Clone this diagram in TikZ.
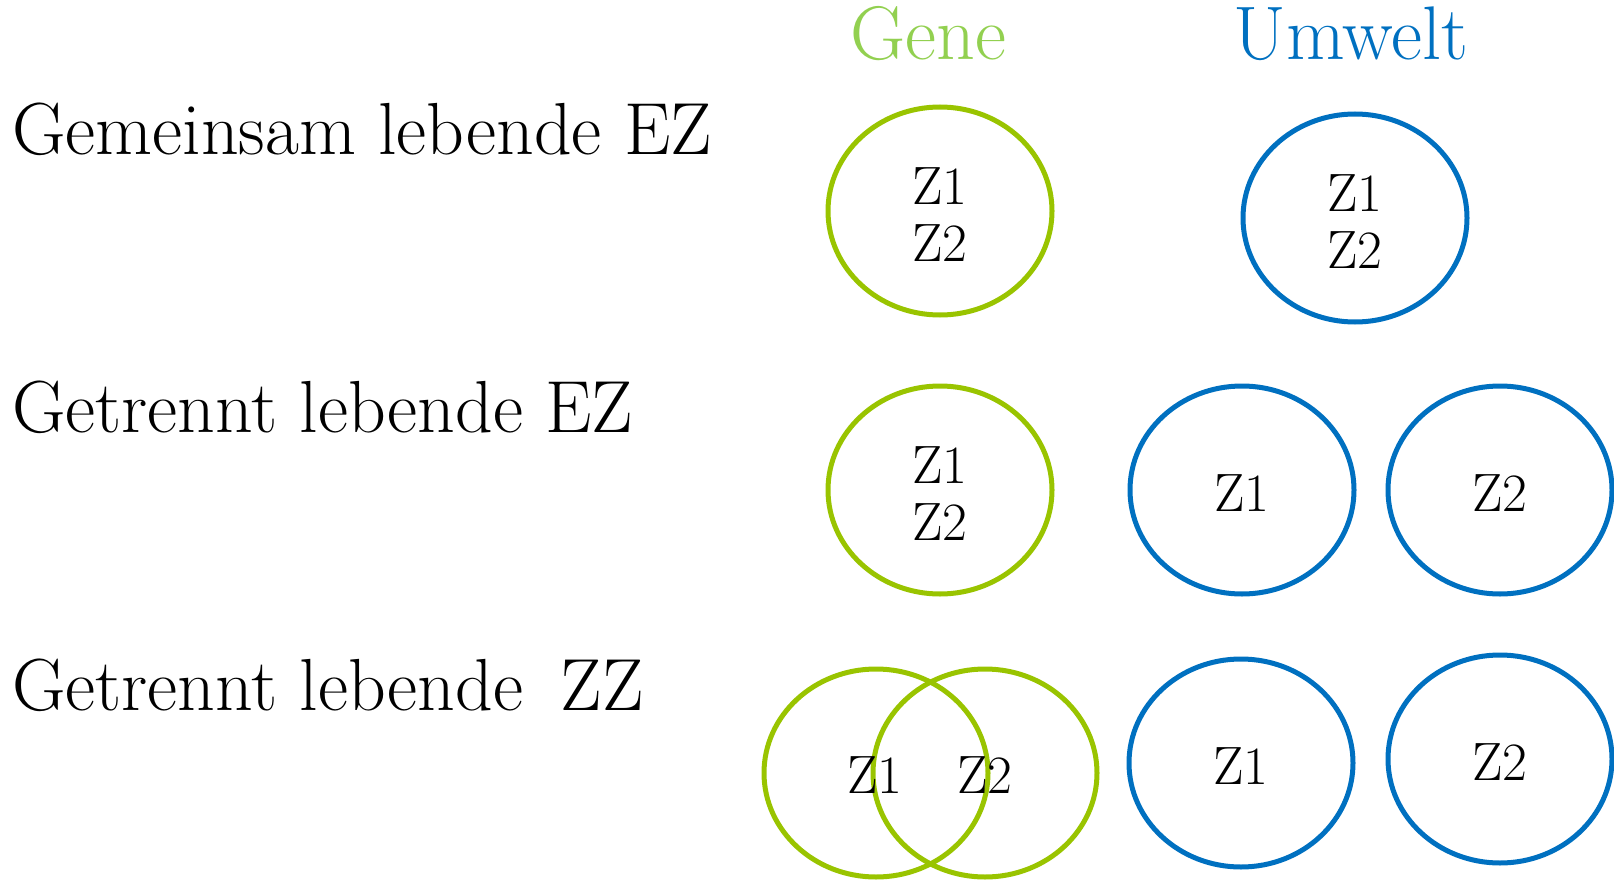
\documentclass[tikz,border=0pt]{standalone}
\usetikzlibrary{shapes.geometric}
\definecolor{ringgreen}{RGB}{153,196,0}
\definecolor{headgreen}{RGB}{146,208,80}
\definecolor{ringblue}{RGB}{0,112,192}
\begin{document}
\begin{tikzpicture}[x=1pt,y=-1pt,
  ring/.style={ellipse, draw, line width=5pt, minimum width=224pt, minimum height=208pt, inner sep=0pt},
  gring/.style={ring, draw=ringgreen},
  bring/.style={ring, draw=ringblue},
  rowlabel/.style={anchor=base west, inner sep=0pt, font=\fontsize{73.8}{90}\selectfont},
  head/.style={anchor=base, inner sep=0pt, font=\fontsize{76}{90}\selectfont},
  ztext/.style={anchor=base, inner sep=0pt, font=\fontsize{54}{64}\selectfont}]
\useasboundingbox (0,0) rectangle (1614,880);
% headers
\node[head, text=headgreen] (gene) at (928,60) {Gene};
\node[head, text=ringblue] (umwelt) at (1351,60) {Umwelt};
% row labels
\node[rowlabel] (r1) at (12,154) {Gemeinsam lebende EZ};
\node[rowlabel] (r2) at (12,432) {Getrennt lebende EZ};
\node[rowlabel] (r3) at (12,710) {Getrennt lebende\ \hspace{15pt}ZZ};
% row 1
\node[gring] (g1) at (940,211) {};
\node[bring] (b1) at (1355,218) {};
\node[ztext] (g1a) at (940,204) {Z1};
\node[ztext] (g1b) at (940,261) {Z2};
\node[ztext] (b1a) at (1355,211) {Z1};
\node[ztext] (b1b) at (1355,268) {Z2};
% row 2
\node[gring] (g2) at (940,490) {};
\node[bring] (b2a) at (1242,490) {};
\node[bring] (b2b) at (1500,490) {};
\node[ztext] (g2a) at (940,483) {Z1};
\node[ztext] (g2b) at (940,540) {Z2};
\node[ztext] (b2at) at (1242,511) {Z1};
\node[ztext] (b2bt) at (1500,511) {Z2};
% row 3
\node[gring] (g3a) at (876,773) {};
\node[gring] (g3b) at (985,773) {};
\node[bring] (b3a) at (1241,763) {};
\node[bring] (b3b) at (1500,759) {};
\node[ztext] (g3at) at (875,793) {Z1};
\node[ztext] (g3bt) at (985,793) {Z2};
\node[ztext] (b3at) at (1241,784) {Z1};
\node[ztext] (b3bt) at (1500,780) {Z2};
\end{tikzpicture}
\end{document}
